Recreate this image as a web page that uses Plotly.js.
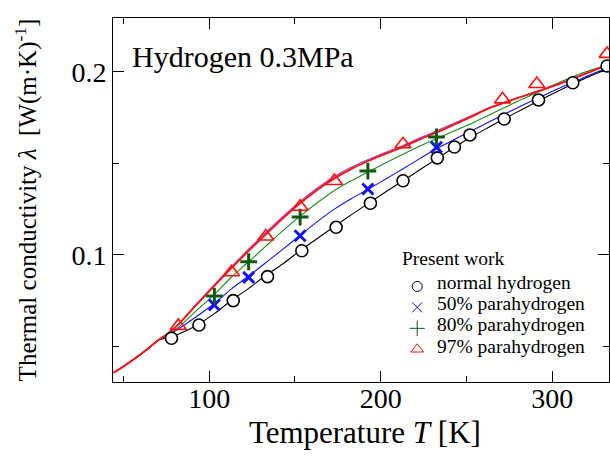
<!DOCTYPE html>
<html><head><meta charset="utf-8">
<script src="https://cdn.plot.ly/plotly-3.0.1.min.js"></script>
<style>html,body{margin:0;padding:0;background:#fff}#chart{width:610px;height:463px}</style>
</head><body><div id="chart"></div>
<script>
// Calculated curves (temperature grid, K)
const curveT = [44, 50, 55, 60, 65, 70, 76, 82, 92, 103, 113, 123, 133, 143, 153, 163, 173, 183, 193, 203, 213, 223, 233, 243, 253, 263, 273, 283, 293, 303, 313, 323, 334];
const curveNormal = [0.0357, 0.0392, 0.0424, 0.0458, 0.0494, 0.0533, 0.0550, 0.0568, 0.0612, 0.0680, 0.0752, 0.0818, 0.0888, 0.0952, 0.1024, 0.1090, 0.1156, 0.1220, 0.1283, 0.1345, 0.1405, 0.1466, 0.1527, 0.1588, 0.1645, 0.1697, 0.1748, 0.1797, 0.1845, 0.1892, 0.1937, 0.1980, 0.2020];
const curveP50 = [0.0357, 0.0392, 0.0424, 0.0458, 0.0494, 0.0533, 0.0562, 0.0596, 0.0660, 0.0735, 0.0815, 0.0885, 0.0958, 0.1032, 0.1107, 0.1182, 0.1250, 0.1308, 0.1360, 0.1415, 0.1470, 0.1527, 0.1582, 0.1630, 0.1678, 0.1725, 0.1772, 0.1818, 0.1862, 0.1905, 0.1946, 0.1986, 0.2025];
const curveP80 = [0.0357, 0.0392, 0.0424, 0.0458, 0.0494, 0.0533, 0.0565, 0.0605, 0.0692, 0.0785, 0.0880, 0.0963, 0.1048, 0.1133, 0.1212, 0.1285, 0.1352, 0.1406, 0.1455, 0.1503, 0.1550, 0.1595, 0.1637, 0.1678, 0.1718, 0.1763, 0.1808, 0.1852, 0.1895, 0.1937, 0.1977, 0.2010, 0.2040];
const curveP97 = [0.0357, 0.0392, 0.0424, 0.0458, 0.0494, 0.0533, 0.0572, 0.0620, 0.0722, 0.0832, 0.0928, 0.1022, 0.1112, 0.1200, 0.1282, 0.1355, 0.1418, 0.1470, 0.1514, 0.1553, 0.1590, 0.1632, 0.1670, 0.1712, 0.1755, 0.1800, 0.1834, 0.1866, 0.1897, 0.1930, 0.1965, 0.2002, 0.2045];
const curveP100 = [0.0357, 0.0392, 0.0424, 0.0458, 0.0494, 0.0533, 0.0573, 0.0622, 0.0726, 0.0838, 0.0936, 0.1031, 0.1122, 0.1210, 0.1292, 0.1365, 0.1428, 0.1479, 0.1522, 0.1560, 0.1597, 0.1639, 0.1678, 0.1719, 0.1760, 0.1803, 0.1836, 0.1867, 0.1898, 0.1930, 0.1965, 0.2002, 0.2045];

// Present work measurements
const normalT = [78, 94, 114, 134, 154, 174, 194, 213, 233, 243, 252, 272, 292, 312, 332];
const normalL = [0.0546, 0.0618, 0.0751, 0.0882, 0.1023, 0.1151, 0.1282, 0.1405, 0.1530, 0.1589, 0.1655, 0.1742, 0.1846, 0.1940, 0.2031];
const p50T = [103, 123, 153, 192.5, 232.5];
const p50L = [0.0727, 0.0878, 0.1105, 0.1360, 0.1588];
const p80T = [103, 123, 153, 192.5, 232.5];
const p80L = [0.0776, 0.0963, 0.1207, 0.1458, 0.1644];
const p97T = [82, 113, 133, 153, 173, 213, 271, 291, 332];
const p97L = [0.0613, 0.0906, 0.1101, 0.1263, 0.1404, 0.1604, 0.1849, 0.1933, 0.2097];

const legendTitle = 'Present work';
const legendNames = ['normal hydrogen', '50% parahydrogen', '80% parahydrogen', '97% parahydrogen'];
const xTicks = [100, 200, 300];
const yTicks = [0.1, 0.2];

const FONT = 'Liberation Serif, Times New Roman, serif';
const cBlack = '#000000', cBlue = '#1010ff', cGreen = '#1a8a1a', cGreenM = '#0f5a0f', cRed = '#ff1010', cPurple = '#9b4dca';

function line(y, color, w) {
  return {x: curveT, y: y, mode: 'lines', line: {color: color, width: w, shape: 'spline', smoothing: 0.8}, showlegend: false, hoverinfo: 'skip'};
}

const traces = [
  line(curveNormal, cBlack, 1.1),
  line(curveP50, cBlue, 1.1),
  line(curveP80, cGreen, 1.1),
  line(curveP100, cPurple, 1.4),
  line(curveP97, cRed, 1.8),
  {x: normalT, y: normalL, mode: 'markers', showlegend: false,
   marker: {symbol: 'circle', size: 12, color: '#ffffff', line: {color: cBlack, width: 1.6}}},
  {x: p50T, y: p50L, mode: 'markers', showlegend: false,
   marker: {symbol: 'x-thin', size: 11, color: cBlue, line: {color: cBlue, width: 3}}},
  {x: p80T, y: p80L, mode: 'markers', showlegend: false,
   marker: {symbol: 'cross-thin', size: 12, color: cGreenM, line: {color: cGreenM, width: 3}}},
  {x: p97T, y: p97L, mode: 'markers', showlegend: false,
   marker: {symbol: 'triangle-up-open', size: 14, color: cRed, line: {color: cRed, width: 1.6}}},
  // legend symbols (labels are drawn as text annotations beside them)
  {x: [null], y: [null], mode: 'markers', name: '',
   marker: {symbol: 'circle-open', size: 10, color: cBlack, line: {width: 1}}},
  {x: [null], y: [null], mode: 'markers', name: '',
   marker: {symbol: 'x-thin-open', size: 10, color: cBlue, line: {color: cBlue, width: 1}}},
  {x: [null], y: [null], mode: 'markers', name: '',
   marker: {symbol: 'cross-thin-open', size: 11, color: cGreenM, line: {color: cGreenM, width: 1}}},
  {x: [null], y: [null], mode: 'markers', name: '',
   marker: {symbol: 'triangle-up-open', size: 11, color: cRed, line: {color: cRed, width: 1}}}
];

const legendRowY = [0.2720, 0.2143, 0.1566, 0.0989];
const annotations = [{
  xref: 'paper', yref: 'paper', x: 0.035, y: 0.893, xanchor: 'left', yanchor: 'middle',
  text: 'Hydrogen 0.3MPa', showarrow: false, font: {family: FONT, size: 30, color: '#000'}
}, {
  xref: 'paper', yref: 'paper', x: 0.578, y: 0.338, xanchor: 'left', yanchor: 'middle',
  text: legendTitle, showarrow: false, font: {family: FONT, size: 19.5, color: '#000'}
}];
legendNames.forEach(function (n, i) {
  annotations.push({
    xref: 'paper', yref: 'paper', x: 0.649, y: legendRowY[i], xanchor: 'left', yanchor: 'middle',
    text: n, showarrow: false, font: {family: FONT, size: 19.5, color: '#000'}
  });
});

const layout = {
  width: 610, height: 463,
  margin: {l: 113, r: 1, t: 18, b: 81},
  paper_bgcolor: '#ffffff', plot_bgcolor: '#ffffff',
  font: {family: FONT, color: '#000000', size: 28},
  showlegend: true,
  legend: {
    x: 0.573, xanchor: 'left', y: 0.305, yanchor: 'top',
    bgcolor: 'rgba(0,0,0,0)', borderwidth: 0,
    font: {family: FONT, size: 13.8, color: '#000'},
    tracegroupgap: 0
  },
  xaxis: {
    range: [43.9, 333.1],
    tickvals: xTicks, ticks: 'inside', ticklen: 11, tickwidth: 1, tickcolor: '#000',
    minor: {dtick: 50, tick0: 0, ticks: 'inside', ticklen: 6, tickwidth: 1, tickcolor: '#000'},
    showline: true, linecolor: '#000', linewidth: 1, mirror: 'allticks',
    showgrid: false, zeroline: false,
    tickfont: {family: FONT, size: 28}, ticklabelstandoff: -9,
    title: {text: '&nbsp;Temperature <i>T</i> [K]', font: {family: FONT, size: 31}, standoff: 8}
  },
  yaxis: {
    range: [0.0307, 0.2293],
    tickvals: yTicks, ticks: 'inside', ticklen: 11, tickwidth: 1, tickcolor: '#000',
    minor: {dtick: 0.05, tick0: 0, ticks: 'inside', ticklen: 6, tickwidth: 1, tickcolor: '#000'},
    showline: true, linecolor: '#000', linewidth: 1, mirror: 'allticks',
    showgrid: false, zeroline: false,
    tickfont: {family: FONT, size: 28},
    title: {text: 'Thermal conductivity <i>λ</i>  [W(m·K)<sup>-1</sup>]', font: {family: FONT, size: 25}, standoff: 27}
  },
  annotations: annotations
};

Plotly.newPlot('chart', traces, layout, {displayModeBar: false, staticPlot: true});
</script>
</body></html>
